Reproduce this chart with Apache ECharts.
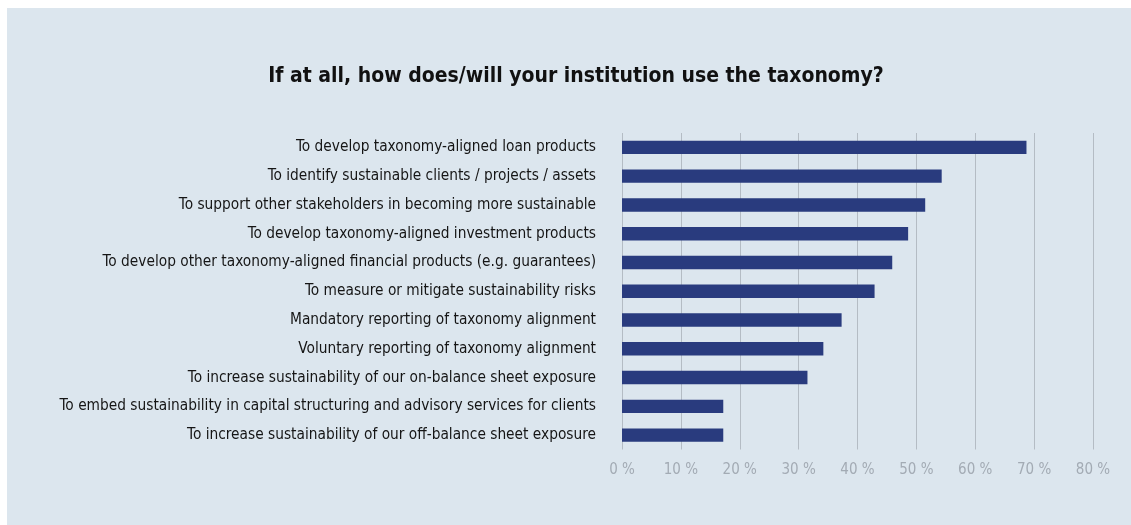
<!DOCTYPE html>
<html>
<head>
<meta charset="utf-8">
<title>Taxonomy use</title>
<script src="https://cdn.jsdelivr.net/npm/echarts@6/dist/echarts.min.js"></script>
<style>
  html, body { margin: 0; padding: 0; background: #ffffff; }
  #chart { width: 1131px; height: 525px; }
</style>
</head>
<body>
<div id="chart"></div>
<script>
// Survey answers, top to bottom
const categories = [
  'To develop taxonomy-aligned loan products',
  'To identify sustainable clients / projects / assets',
  'To support other stakeholders in becoming more sustainable',
  'To develop taxonomy-aligned investment products',
  'To develop other taxonomy-aligned financial products (e.g. guarantees)',
  'To measure or mitigate sustainability risks',
  'Mandatory reporting of taxonomy alignment',
  'Voluntary reporting of taxonomy alignment',
  'To increase sustainability of our on-balance sheet exposure',
  'To embed sustainability in capital structuring and advisory services for clients',
  'To increase sustainability of our off-balance sheet exposure'
];

// Share of respondents, in percent
const shares = [68.7, 54.3, 51.5, 48.6, 45.9, 42.9, 37.3, 34.2, 31.5, 17.2, 17.2];

// Value axis ticks
const axisMin = 0;
const axisMax = 80;
const axisStep = 10;

const FONT = "'DejaVu Sans Condensed', sans-serif";

const chart = echarts.init(document.getElementById('chart'), null, { renderer: 'canvas' });

chart.setOption({
  backgroundColor: '#ffffff',
  animation: false,
  graphic: [{
    type: 'rect',
    z: -10,
    shape: { x: 7, y: 8, width: 1124, height: 517 },
    style: { fill: '#dce6ee' }
  }],
  title: {
    text: 'If at all, how does/will your institution use the taxonomy?',
    left: 571,
    top: 61,
    textAlign: 'center',
    textStyle: {
      fontFamily: FONT,
      fontSize: 21,
      fontWeight: 'bold',
      color: '#111111'
    }
  },
  grid: {
    left: 622,
    top: 133,
    width: 471,
    height: 316.5,
    containLabel: false,
    outerBoundsMode: 'none'
  },
  xAxis: {
    type: 'value',
    min: axisMin,
    max: axisMax,
    interval: axisStep,
    axisLine: { show: false },
    axisTick: { show: false },
    splitLine: { show: true, lineStyle: { color: '#b4bcc4', width: 1 } },
    axisLabel: {
      margin: 13,
      fontFamily: FONT,
      fontSize: 15,
      color: '#a3abb4',
      formatter: v => v + ' %'
    }
  },
  yAxis: {
    type: 'category',
    data: categories,
    inverse: true,
    axisLine: { show: false },
    axisTick: { show: false },
    splitLine: { show: false },
    axisLabel: {
      margin: 26,
      fontFamily: FONT,
      fontSize: 15.3,
      color: '#151515'
    }
  },
  series: [{
    type: 'bar',
    data: shares,
    barWidth: 13.4,
    itemStyle: { color: '#293b7e' }
  }]
});
</script>
</body>
</html>
